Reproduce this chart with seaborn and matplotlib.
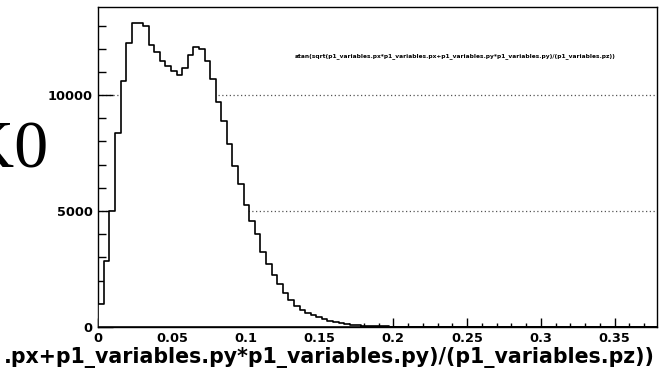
import numpy as np
import pandas as pd
import matplotlib
matplotlib.use("Agg")
import matplotlib.pyplot as plt
from matplotlib.ticker import MultipleLocator
import seaborn as sns

# ---- data ----
x_min = 0.0
x_max = 0.379
n_bins = 100
counts_head = [980, 2860, 5000, 8350, 10600, 12250, 13100, 13100, 13000, 12150,
               11880, 11470, 11240, 11050, 10850, 11150, 11710, 12080, 12000, 11490,
               10680, 9710, 8900, 7875, 6940, 6160, 5270, 4555, 3995, 3240,
               2730, 2235, 1840, 1478, 1164, 905, 733, 616, 504, 418,
               332, 272, 216, 158, 129, 100, 75, 55, 45, 35,
               28, 22, 17, 13, 10, 8, 6, 5, 4, 3,
               2, 2, 1, 1]
counts = counts_head + [0] * (n_bins - len(counts_head))
x_ticks = [0, 0.05, 0.1, 0.15, 0.2, 0.25, 0.3, 0.35]
x_tick_labels = ["0", "0.05", "0.1", "0.15", "0.2", "0.25", "0.3", "0.35"]
y_ticks = [0, 5000, 10000]
y_tick_labels = ["0", "5000", "10000"]
title_text = "atan(sqrt(p1_variables.px*p1_variables.px+p1_variables.py*p1_variables.py)/(p1_variables.pz))"
xlabel_text = ".px+p1_variables.py*p1_variables.py)/(p1_variables.pz))"
side_text = "K0"

edges = np.linspace(x_min, x_max, n_bins + 1)
centers = 0.5 * (edges[:-1] + edges[1:])
df = pd.DataFrame({"x": centers, "w": counts})

sns.set_style("ticks")
plt.rcParams["font.family"] = ["DejaVu Sans"]
plt.rcParams["text.color"] = "black"
plt.rcParams["xtick.color"] = "black"
plt.rcParams["ytick.color"] = "black"
plt.rcParams["xtick.labelcolor"] = "black"
plt.rcParams["ytick.labelcolor"] = "black"

fig = plt.figure(figsize=(6.59, 3.79), dpi=100)
ax = fig.add_axes([98.3 / 659, 1 - 327 / 379, (657.3 - 98.3) / 659, (327 - 7) / 379])

ax.yaxis.grid(True, linestyle=(0, (1, 2)), color="#555555", linewidth=0.9, zorder=0)
ax.set_axisbelow(True)

sns.histplot(data=df, x="x", weights="w", bins=n_bins, binrange=(x_min, x_max),
             element="step", fill=True, color="white", alpha=1, edgecolor="black",
             linewidth=1.2, ax=ax, zorder=3)

ax.set_xlim(x_min, x_max)
ax.set_ylim(0, 13800)
ax.set_xticks(x_ticks)
ax.set_xticklabels(x_tick_labels)
ax.set_yticks(y_ticks)
ax.set_yticklabels(y_tick_labels)
ax.xaxis.set_minor_locator(MultipleLocator(0.01))
ax.yaxis.set_minor_locator(MultipleLocator(1000))
ax.tick_params(axis="x", which="major", direction="in", length=6.5, width=1, pad=3.5,
               labelsize=9.3, colors="black")
ax.tick_params(axis="x", which="minor", direction="in", length=3.2, width=1, colors="black")
ax.tick_params(axis="y", which="major", direction="in", length=10.6, width=1, pad=4,
               labelsize=9.3, colors="black")
ax.tick_params(axis="y", which="minor", direction="in", length=5.8, width=1, colors="black")
for lab in ax.get_xticklabels() + ax.get_yticklabels():
    lab.set_fontweight("bold")
for sp in ax.spines.values():
    sp.set_visible(True)
    sp.set_linewidth(1.0)
    sp.set_color("black")
ax.set_xlabel("")
ax.set_ylabel("")

fig.text(455.5 / 659, 1 - 56 / 379, title_text, color="black",
         ha="center", va="center", fontsize=4.2, fontweight="bold")
fig.text(655 / 659, 1 - 358 / 379, xlabel_text, ha="right", va="center", color="black",
         fontsize=14.8, fontweight="bold")
fig.text(48 / 659, 1 - 151 / 379, side_text, ha="right", va="center", color="black",
         fontsize=49, family=["Liberation Serif", "DejaVu Serif"])

fig.savefig("out.png", dpi=100)
